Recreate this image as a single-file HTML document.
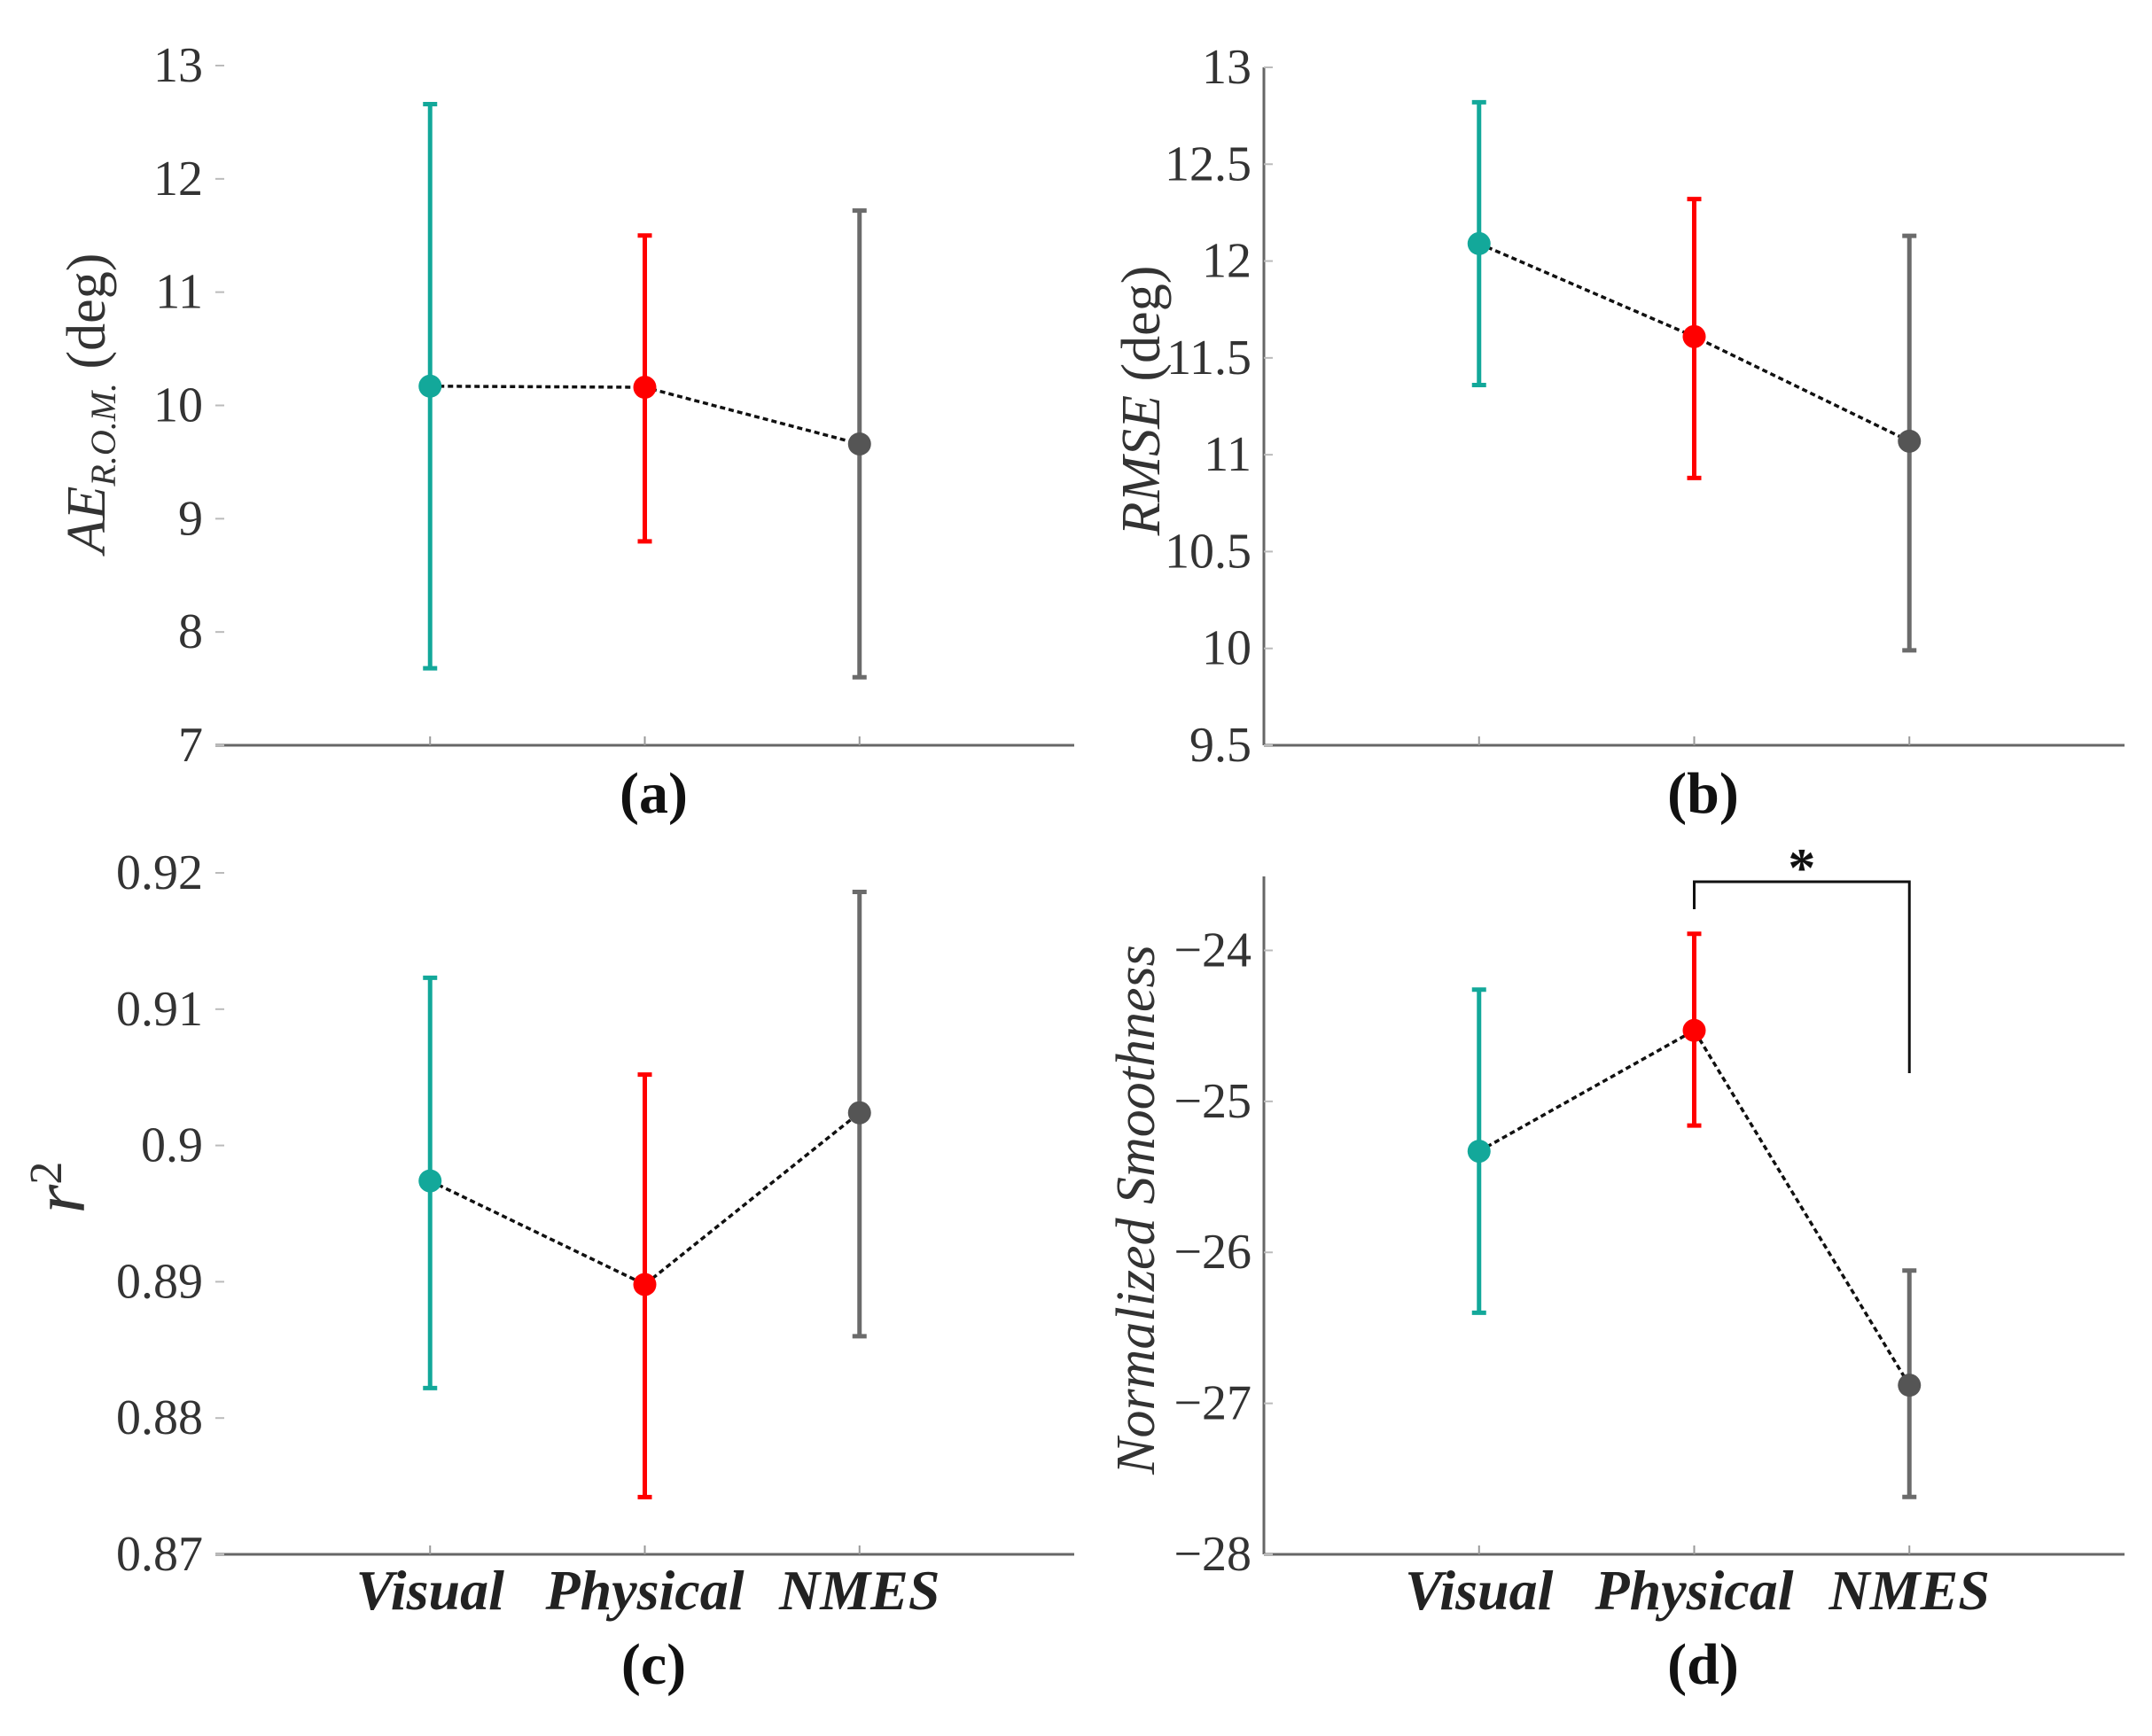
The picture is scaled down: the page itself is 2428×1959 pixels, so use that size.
<!DOCTYPE html>
<html><head><meta charset="utf-8">
<style>
html,body{margin:0;padding:0;background:#fff;}
svg{display:block;}
text{font-family:"Liberation Serif",serif;}
</style></head>
<body>
<svg id="fig" width="2428" height="1959" viewBox="0 0 2428 1959" xmlns="http://www.w3.org/2000/svg"></svg>
<script>
const categories = ["Visual","Physical","NMES"];
const colors = ["#13a89a","#ff0000","#6b6b6b"];
const aMean = [10.17, 10.16, 9.66];
const aLow = [7.68, 8.8, 7.6];
const aHigh = [12.66, 11.5, 11.72];
const aTicks = ["7","8","9","10","11","12","13"];
const bMean = [12.09, 11.61, 11.07];
const bLow = [11.36, 10.88, 9.99];
const bHigh = [12.82, 12.32, 12.13];
const bTicks = ["9.5","10","10.5","11","11.5","12","12.5","13"];
const cMean = [0.8974, 0.8898, 0.9024];
const cLow = [0.8822, 0.8742, 0.886];
const cHigh = [0.9123, 0.9052, 0.9186];
const cTicks = ["0.87","0.88","0.89","0.9","0.91","0.92"];
const dMean = [-25.33, -24.53, -26.88];
const dLow = [-26.40, -25.16, -27.62];
const dHigh = [-24.26, -23.89, -26.12];
const dTicks = ["-28","-27","-26","-25","-24"];

const NS="http://www.w3.org/2000/svg";
const svg=document.getElementById('fig');
function el(tag,attrs,parent){const e=document.createElementNS(NS,tag);for(const k in attrs)e.setAttribute(k,attrs[k]);(parent||svg).appendChild(e);return e;}

function panel(cfg){
  const g=el('g',{});
  
  
  const x=i=>cfg.x0+(cfg.x1-cfg.x0)*(i+1)/4;
  const y=v=>cfg.yb-(v-cfg.ymin)/(cfg.ymax-cfg.ymin)*(cfg.yb-cfg.yt);
  const xa=el('line',{x1:cfg.x0,y1:cfg.yb,x2:cfg.x1,y2:cfg.yb,stroke:'#666','stroke-width':3},g);
  
  
  if(cfg.yaxis){
    const ya=el('line',{x1:cfg.x0,y1:cfg.yt,x2:cfg.x0,y2:cfg.yb,stroke:'#666','stroke-width':3},g);
    
    
  }
  categories.forEach((c,i)=>{
    const t=el('line',{x1:x(i),y1:cfg.yb,x2:x(i),y2:cfg.yb-10,stroke:'#999','stroke-width':2},g);
    
    
  });
  cfg.ticks.forEach(s=>{
    const v=parseFloat(s);
    const tk=el('line',{x1:cfg.x0,y1:y(v),x2:cfg.x0+10,y2:y(v),stroke:'#bbb','stroke-width':2},g);
    
    
    const t=el('text',{x:cfg.x0-14,y:y(v)+18,'text-anchor':'end','font-size':56,fill:'#333'},g);
    t.textContent=s.replace('-','\u2212');
    
    
  });
  const pts=cfg.mean.map((v,i)=>x(i)+','+y(v)).join(' ');
  const pl=el('polyline',{points:pts,fill:'none',stroke:'#111','stroke-width':3.5,'stroke-dasharray':'6 4'},g);
  
  
  cfg.mean.forEach((m,i)=>{
    const eg=el('g',{},g);
    
    
    el('line',{x1:x(i),y1:y(cfg.low[i]),x2:x(i),y2:y(cfg.high[i]),stroke:colors[i],'stroke-width':5},eg);
    el('line',{x1:x(i)-8,y1:y(cfg.low[i]),x2:x(i)+8,y2:y(cfg.low[i]),stroke:colors[i],'stroke-width':5},eg);
    el('line',{x1:x(i)-8,y1:y(cfg.high[i]),x2:x(i)+8,y2:y(cfg.high[i]),stroke:colors[i],'stroke-width':5},eg);
    const pt=el('circle',{cx:x(i),cy:y(m),r:13,fill:i==2?'#555':colors[i]},g);
    
    
  });
  if(cfg.xlabels){
    categories.forEach((c,i)=>{
      const t=el('text',{x:x(i),y:cfg.yb+62,'text-anchor':'middle','font-size':64,'font-weight':'bold','font-style':'italic',fill:'#222'},g);
      t.textContent=c;
      
      
    });
  }
  const pl2=el('text',{x:(cfg.x0+cfg.x1)/2+10,y:cfg.plY,'text-anchor':'middle','font-size':66,'font-weight':'bold',fill:'#111'},g);
  pl2.textContent=cfg.label;
  
  
  return {g,x,y};
}

const pa=panel({name:'panel-a',x0:243,x1:1212,yt:74,yb:841,ymin:7,ymax:13,ticks:aTicks,mean:aMean,low:aLow,high:aHigh,yaxis:false,xlabels:false,label:'(a)',plY:917});
const pb=panel({name:'panel-b',x0:1426,x1:2397,yt:76,yb:841,ymin:9.5,ymax:13,ticks:bTicks,mean:bMean,low:bLow,high:bHigh,yaxis:true,xlabels:false,label:'(b)',plY:917});
const pc=panel({name:'panel-c',x0:243,x1:1212,yt:985,yb:1754,ymin:0.87,ymax:0.92,ticks:cTicks,mean:cMean,low:cLow,high:cHigh,yaxis:false,xlabels:true,label:'(c)',plY:1900});
const pd=panel({name:'panel-d',x0:1426,x1:2397,yt:989,yb:1754,ymin:-28,ymax:-23.51,ticks:dTicks,mean:dMean,low:dLow,high:dHigh,yaxis:true,xlabels:true,label:'(d)',plY:1900});

function ytitle(name,x,y,html,size){
  const t=el('text',{x:x,y:y,'text-anchor':'middle','font-size':size,fill:'#333',transform:'rotate(-90 '+x+' '+y+')'});
  t.innerHTML=html;
  
  
}
ytitle('y-axis-title-a',118,455,'<tspan font-style="italic">AE</tspan><tspan font-style="italic" font-size="40" dy="12">R.O.M.</tspan><tspan dy="-12"> (deg)</tspan>',62);
ytitle('y-axis-title-b',1308,452,'<tspan font-style="italic">RMSE</tspan> (deg)',62);
ytitle('y-axis-title-c',95,1340,'<tspan font-style="italic">r</tspan><tspan font-size="52" dy="-26">2</tspan>',84);
ytitle('y-axis-title-d',1302,1365,'<tspan font-style="italic">Normalized Smoothness</tspan>',62);

const br=el('polyline',{points:pd.x(1)+','+1026+' '+pd.x(1)+','+995+' '+pd.x(2)+','+995+' '+pd.x(2)+','+1211,fill:'none',stroke:'#111','stroke-width':3});


const st=el('text',{x:(pd.x(1)+pd.x(2))/2,y:1000,'text-anchor':'middle','font-size':62,'font-weight':'bold',fill:'#111'});
st.textContent='*';


</script>
</body></html>
